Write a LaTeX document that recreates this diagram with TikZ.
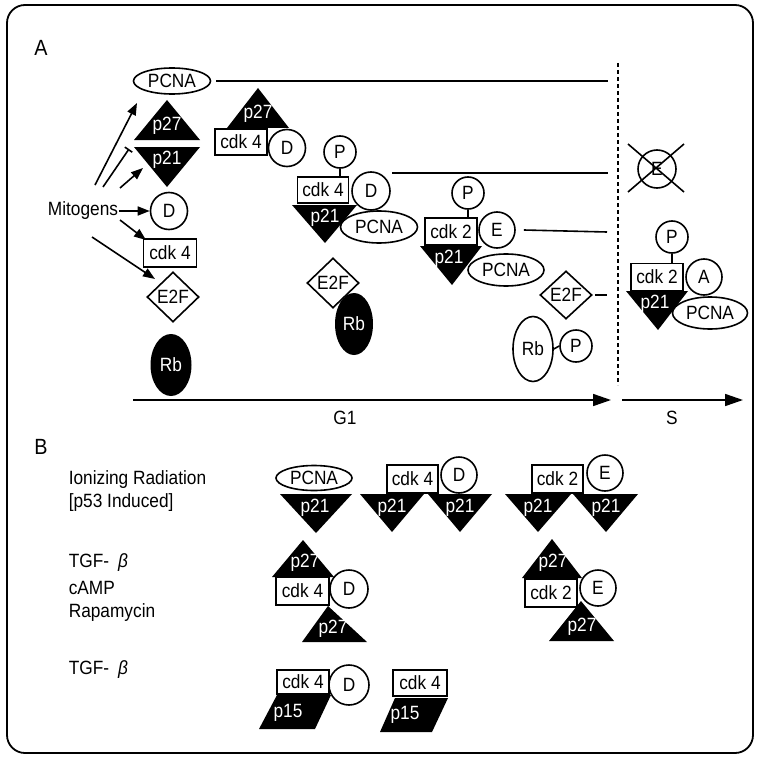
\documentclass[tikz,border=0pt]{standalone}
\usepackage{fontspec}
\setmainfont{Liberation Sans}[FakeStretch=0.9]
\usetikzlibrary{shapes.geometric,arrows.meta}
\begin{document}
\begin{tikzpicture}[x=1pt,y=-1pt,line width=1.6pt,font=\fontsize{19.2}{21}\selectfont,
 circ/.style={draw,circle,fill=white,inner sep=0pt,minimum size=#1},
 circ/.default=37pt,
 ell/.style={draw,ellipse,fill=white,inner sep=0pt},
 box/.style={draw,rectangle,fill=white,inner sep=0pt},
 dia/.style={draw,diamond,fill=white,inner sep=0pt,minimum width=52pt,minimum height=50pt},
 wt/.style={text=white,inner sep=0pt},
 lab/.style={anchor=west,inner sep=0pt},
 arr/.style={-{Triangle[length=12pt,width=9pt]}},
 blk/.style={fill=black}
]
\useasboundingbox (0,0) rectangle (756,757);
\draw[line width=1.8pt,rounded corners=18pt] (7,5) rectangle (753,753);

\node[font=\fontsize{22}{24}\selectfont] (lA) at (41,48) {A};
\node[font=\fontsize{22}{24}\selectfont] (lB) at (41,447) {B};

% ---------- Part A, group 1
\node[ell,minimum width=77pt,minimum height=26pt] (pcna1) at (172,81) {PCNA};
\fill[blk] (167,100) -- (200,140) -- (134,140) -- cycle;
\node[wt] (p27a) at (167,126) {p27};
\fill[blk] (134,147) -- (200,147) -- (167,187) -- cycle;
\node[wt] (p21a) at (167,160) {p21};
\node[circ] (d1) at (169,211) {D};
\node[box,minimum width=53pt,minimum height=28pt] (cdk4a) at (170,253) {cdk 4};
\node[dia] (e2f1) at (173,297) {E2F};
\node[ellipse,blk,minimum width=41pt,minimum height=62pt,inner sep=0pt,text=white] (rb1) at (171,365) {Rb};

\node[inner sep=0pt] (mit) at (83,211) {Mitogens};
\coordinate (m1) at (95,185); \coordinate (t1) at (137,103);
\coordinate (m2) at (103,187); \coordinate (t2) at (129,149);
\coordinate (m3) at (120,188); \coordinate (t3) at (143,168);
\coordinate (m4) at (120,220); \coordinate (t4) at (146,240);
\coordinate (m5) at (92,237);  \coordinate (t5) at (155,279);
\draw[arr] (m1) -- (t1);
\draw[-{Bar[width=9pt]}] (m2) -- (t2);
\draw[arr] (m3) -- (t3);
\draw[arr] (mit.east) -- (d1.west);
\draw[arr] (m4) -- (t4);
\draw[arr] (m5) -- (t5);

% ---------- group 2
\fill[blk] (258,88) -- (289,128) -- (227,128) -- cycle;
\node[wt] (p27b) at (258,114) {p27};
\node[box,minimum width=52pt,minimum height=26pt] (cdk4b) at (241,142) {cdk 4};
\node[circ] (d2) at (287,148) {D};

% ---------- group 3
\fill[blk] (292,205) -- (357,205) -- (325,243) -- cycle;
\node[wt] (p21c) at (325,218) {p21};
\node[circ=32pt] (p3) at (340,152) {P};
\node[box,minimum width=51pt,minimum height=26pt] (cdk4c) at (323,190) {cdk 4};
\draw (p3.south) -- (p3.south |- cdk4c.north);
\node[circ=38pt] (d3) at (371,191) {D};
\node[ell,minimum width=77pt,minimum height=32pt] (pcna3) at (379,227) {PCNA};
\coordinate (l2s) at (392,173); \coordinate (l2e) at (608,173);
\draw (l2s) -- (l2e);

% ---------- group 4
\fill[blk] (420,246) -- (482,246) -- (452,285) -- cycle;
\node[wt] (p21d) at (449,259) {p21};
\node[circ=32pt] (p4) at (468,193) {P};
\node[box,minimum width=52pt,minimum height=27pt] (cdk2a) at (451,231.5) {cdk 2};
\draw (p4.south) -- (p4.south |- cdk2a.north);
\node[circ=36pt] (e4) at (497,230) {E};
\node[ell,minimum width=76pt,minimum height=32pt] (pcna4) at (506,270) {PCNA};
\coordinate (l3e) at (607,232);
\draw ([xshift=8pt]e4.east) -- (l3e);

\node[dia] (e2f2) at (333,283) {E2F};
\node[ellipse,blk,minimum width=38pt,minimum height=62pt,inner sep=0pt,text=white] (rb2) at (354,324) {Rb};

\node[dia,minimum width=52pt,minimum height=48pt] (e2f3) at (566,295) {E2F};
\coordinate (l4e) at (607,295);
\draw ([xshift=2pt]e2f3.east) -- (l4e);
\node[ell,minimum width=40pt,minimum height=65pt] (rb3) at (533,349) {Rb};
\node[circ=32pt] (p6) at (576,346) {P};
\draw (rb3.east) -- (p6.west);

% ---------- top line
\coordinate (l1e) at (608,81);
\draw ([xshift=5pt]pcna1.east) -- (l1e);

% dashed boundary
\coordinate (dtop) at (618,63); \coordinate (dbot) at (618,385);
\draw[line width=1.8pt,dash pattern=on 4pt off 3pt] (dtop) -- (dbot);

% crossed E
\node[circ=38pt] (ex) at (657,169) {E};
\draw (628,144) -- (684,192);
\draw (628,192) -- (684,144);

% S group
\fill[blk] (626,291) -- (688,291) -- (658,330) -- cycle;
\node[wt] (p21s) at (655,304) {p21};
\node[circ=32pt] (p5) at (672,237) {P};
\node[box,minimum width=52pt,minimum height=27pt] (cdk2s) at (657,277) {cdk 2};
\draw (p5.south) -- (p5.south |- cdk2s.north);
\node[circ=36pt] (as) at (704,277) {A};
\node[ell,minimum width=75pt,minimum height=32pt] (pcna5) at (710,313) {PCNA};

% phase arrows
\coordinate (g1s) at (133,400); \coordinate (g1e) at (611,400);
\coordinate (ss) at (622,400); \coordinate (se) at (743,400);
\draw[-{Triangle[length=18pt,width=12pt]}] (g1s) -- (g1e);
\draw[-{Triangle[length=18pt,width=12pt]}] (ss) -- (se);
\node (g1) at (345,418) {G1};
\node (sl) at (672,418) {S};

% ---------- Part B labels
\node[lab] (ir) at (68,480) {Ionizing Radiation};
\node[lab] (p53) at (68,503) {[p53 Induced]};
\node[lab] (tgf1) at (68,563) {TGF-\hspace{9pt}{\itshape β}};
\node[lab] (camp) at (68,588) {cAMP};
\node[lab] (rapa) at (68,613) {Rapamycin};
\node[lab] (tgf2) at (68,670) {TGF-\hspace{9pt}{\itshape β}};

% row 1, group 1
\fill[blk] (280,494) -- (352,494) -- (316,533) -- cycle;
\node[wt] (b21a) at (315,508) {p21};
\node[ell,minimum width=76pt,minimum height=25pt] (bpcna) at (314,478) {PCNA};

% row 1, group 2
\fill[blk] (360,494) -- (424,494) -- (392,532) -- cycle;
\fill[blk] (428,494) -- (492,494) -- (460,532) -- cycle;
\node[wt] (b21b) at (392,508) {p21};
\node[wt] (b21c) at (460,508) {p21};
\node[box,minimum width=51pt,minimum height=28pt] (bcdk4a) at (412.5,479) {cdk 4};
\node[circ=36pt] (bd1) at (459,475) {D};

% row 1, group 3
\fill[blk] (505,494) -- (571,494) -- (538,532) -- cycle;
\fill[blk] (573,494) -- (638,494) -- (606,532) -- cycle;
\node[wt] (b21d) at (538,508) {p21};
\node[wt] (b21e) at (606,508) {p21};
\node[box,minimum width=51pt,minimum height=28pt] (bcdk2a) at (557.5,479) {cdk 2};
\node[circ=36pt] (be1) at (605,473) {E};

% row 2, group 1
\fill[blk] (303,540) -- (334,577) -- (272,577) -- cycle;
\fill[blk] (328,606) -- (367,642) -- (302,642) -- cycle;
\node[wt] (b27a) at (305,563) {p27};
\node[wt] (b27b) at (333,629) {p27};
\node[box,minimum width=53pt,minimum height=28pt] (bcdk4b) at (302.5,591) {cdk 4};
\node[circ=38pt] (bd2) at (349,589) {D};

% row 2, group 2
\fill[blk] (552,539) -- (582,578) -- (522,578) -- cycle;
\fill[blk] (581,601) -- (614,641) -- (549,641) -- cycle;
\node[wt] (b27c) at (553,563) {p27};
\node[wt] (b27d) at (582,627) {p27};
\node[box,minimum width=52pt,minimum height=28pt] (bcdk2b) at (551,593) {cdk 2};
\node[circ=36pt] (be2) at (598,588) {E};

% row 3, group 1
\fill[blk] (277,695) -- (331,695) -- (315,729) -- (259,729) -- cycle;
\node[wt] (b15a) at (288,713) {p15};
\node[box,minimum width=52pt,minimum height=24pt] (bcdk4c) at (303,682) {cdk 4};
\node[circ=40pt] (bd3) at (349,685) {D};

% row 3, group 2
\fill[blk] (395,698) -- (448,698) -- (432,732) -- (380,732) -- cycle;
\node[wt] (b15b) at (405,715) {p15};
\node[box,minimum width=54pt,minimum height=26pt] (bcdk4d) at (420,683) {cdk 4};
\end{tikzpicture}
\end{document}
